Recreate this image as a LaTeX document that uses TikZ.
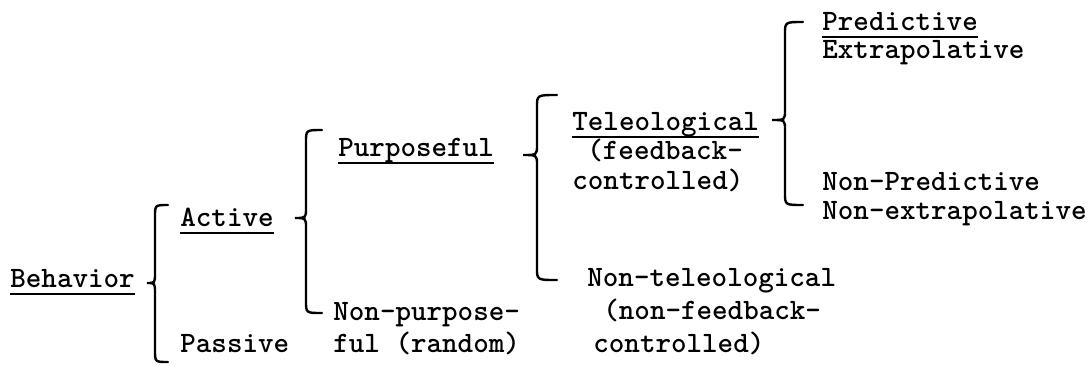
\documentclass[tikz,border=0pt]{standalone}
\usepackage{tikz}

\begin{document}
\begin{tikzpicture}[x=0.5pt,y=-0.5pt]
		\tikzstyle {label text} = [anchor=base west, inner sep=0pt, font=\fontsize{14.8}{17}\selectfont\ttfamily\bfseries]
		\tikzstyle {brace line} = [line width=1.2pt, line cap=round]
		\tikzstyle {under line} = [line width=1pt]

		\useasboundingbox (0,0) rectangle (1091,365);

		% first level
		\node[label text] (behavior) at (10,287) {Behavior};
		\node[label text] (active) at (180,226) {Active};
		\node[label text] (passive) at (180,352) {Passive};

		% second level
		\node[label text] (purposeful) at (338,156) {Purposeful};
		\node[label text] (nonpurpA) at (333,320) {Non-purpose-};
		\node[label text] (nonpurpB) at (333,352) {ful (random)};

		% third level
		\node[label text] (teleo) at (572,130) {Teleological};
		\node[label text] (teleoB) at (587,159) {(feedback-};
		\node[label text] (teleoC) at (572,189) {controlled)};
		\node[label text] (nontel) at (587,286) {Non-teleological};
		\node[label text] (nontelB) at (603,319) {(non-feedback-};
		\node[label text] (nontelC) at (593,352) {controlled)};

		% fourth level
		\node[label text] (predictive) at (822,30) {Predictive};
		\node[label text] (extrap) at (822,58) {Extrapolative};
		\node[label text] (nonpred) at (822,190) {Non-Predictive};
		\node[label text] (nonextrap) at (822,219) {Non-extrapolative};

		\foreach \n in {behavior, active, purposeful, teleo, predictive}
		{
			\draw[under line] ([yshift=-3.4pt]\n.base west) -- ([yshift=-3.4pt]\n.base east);
		}

		% braces: shaft x / tip x / hook x / top y / tip y / bottom y
		\foreach \s/\p/\h/\t/\m/\b in {155/147/168/205/283/362, 306/295/322/130/218/313,
		                                537/523/557/95/155/280, 785/772/803/22/120/205}
		{
			\pgfmathsetmacro{\ta}{\t + 12}
			\pgfmathsetmacro{\ma}{\m - 10}
			\pgfmathsetmacro{\mb}{\m + 10}
			\pgfmathsetmacro{\ba}{\b - 12}

			\draw[brace line] (\h,\t) .. controls (\s,\t) .. (\s,\ta) -- (\s,\ma)
				.. controls (\s,\m) .. (\p,\m) .. controls (\s,\m) .. (\s,\mb)
				-- (\s,\ba) .. controls (\s,\b) .. (\h,\b);
		}
	\end{tikzpicture}
\end{document}
